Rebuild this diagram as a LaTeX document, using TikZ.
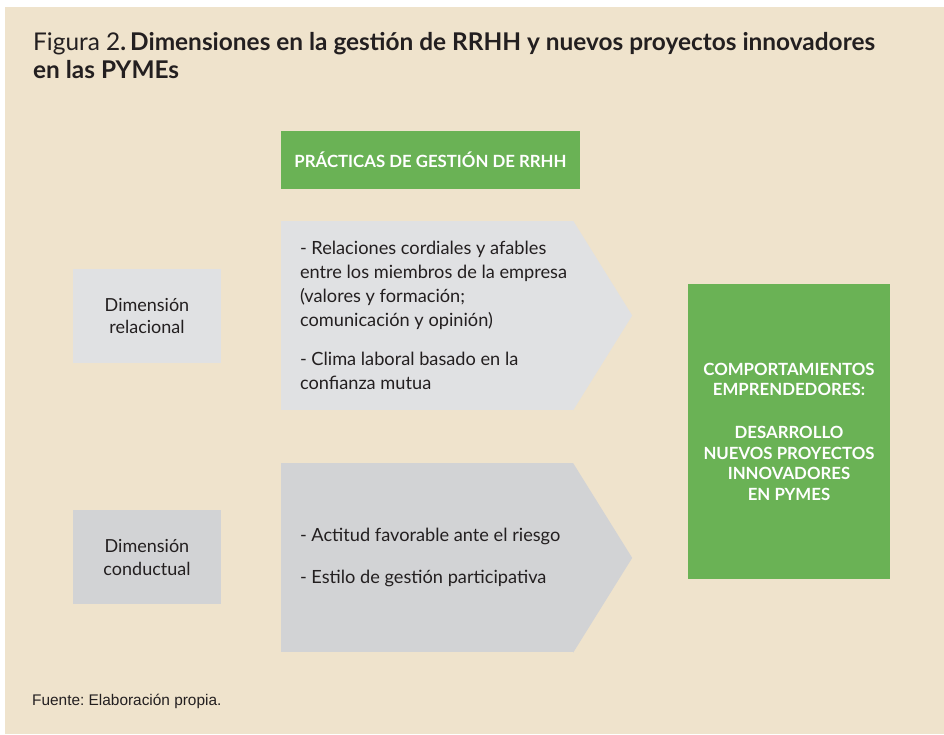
\documentclass[tikz,border=0pt]{standalone}
\usepackage{fontspec}
\setmainfont{Lato}
\newfontfamily\fuentefont{Liberation Sans}
\usetikzlibrary{positioning}

\definecolor{fondo}{HTML}{EFE3CC}
\definecolor{verde}{HTML}{6AB255}
\definecolor{grisclaro}{HTML}{E0E1E3}
\definecolor{grisoscuro}{HTML}{D2D3D5}
\definecolor{texto}{HTML}{231F20}

\tikzset{
  dimbox/.style={rectangle, inner sep=0pt, minimum width=148pt, minimum height=94pt,
    align=center, text=texto, font=\fontsize{18}{22.5}\selectfont},
  verdebox/.style={rectangle, fill=verde, text=white, inner sep=0pt, align=center,
    font=\bfseries\fontsize{16.8}{20.5}\selectfont},
  flecha/.style={rectangle, inner sep=0pt, minimum width=292pt, minimum height=189pt},
  lista/.style={align=left, inner sep=0pt, text=texto, font=\fontsize{18.2}{24}\selectfont}
}

\begin{document}
\frenchspacing
\begin{tikzpicture}[x=1pt,y=-1pt]
\useasboundingbox (0,0) rectangle (944,734);
\fill[white] (0,0) rectangle (944,734);
\fill[fondo] (5,7) rectangle (944,734);

% titulo
\node[anchor=north west, align=left, inner sep=0pt, text=texto,
  font=\fontsize{24.4}{28}\selectfont] (titulo) at (33,32)
  {Figura 2\textbf{.\,Dimensiones en la gestión de RRHH y nuevos proyectos innovadores}\\
   \textbf{en las PYMEs}};

% cabecera
\node[verdebox, minimum width=299pt, minimum height=58pt] (practicas) at (430.5,160)
  {PRÁCTICAS DE GESTIÓN DE RRHH};

% flechas
\node[flecha, fill=grisclaro] (rel) at (427,315.5) {};
\fill[grisclaro] (rel.north east) -- ([xshift=59pt]rel.east) -- (rel.south east) -- cycle;
\node[lista, right=19pt of rel.west] (reltxt)
  {- Relaciones cordiales y afables\\
   entre los miembros de la empresa\\
   (valores y formación;\\
   comunicación y opinión)\\[15pt]
   - Clima laboral basado en la\\
   confianza mutua};

\node[flecha, fill=grisoscuro, below=53pt of rel] (cond) {};
\fill[grisoscuro] (cond.north east) -- ([xshift=59pt]cond.east) -- (cond.south east) -- cycle;
\node[lista, right=19pt of cond.west] (condtxt)
  {- Actitud favorable ante el riesgo\\[18pt]
   - Estilo de gestión participativa};

% dimensiones
\node[dimbox, fill=grisclaro] (dimrel) at (147,316) {Dimensión\\relacional};
\node[dimbox, fill=grisoscuro, below=147pt of dimrel] (dimcond) {Dimensión\\conductual};

% resultado
\node[verdebox, minimum width=202pt, minimum height=295pt] (comport) at (789,431.5)
  {COMPORTAMIENTOS\\EMPRENDEDORES:\\[22.5pt]
   DESARROLLO\\NUEVOS PROYECTOS\\INNOVADORES\\EN PYMES};

% fuente
\node[anchor=base west, inner sep=0pt, text=texto,
  font=\fuentefont\fontsize{15.4}{18}\selectfont] (fuente) at (32,705)
  {Fuente: Elaboración propia.};
\end{tikzpicture}
\end{document}
